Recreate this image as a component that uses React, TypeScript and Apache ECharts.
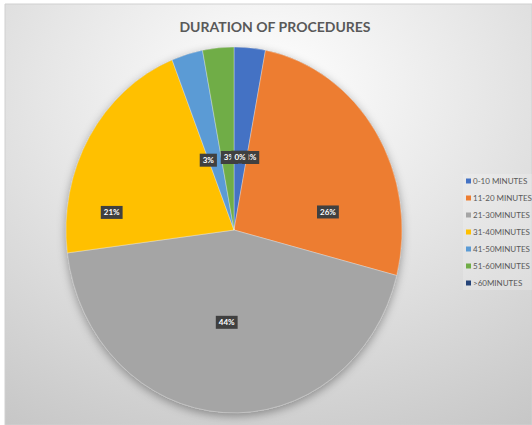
import React, { useEffect, useRef } from 'react';
import * as echarts from 'echarts';

const categories = ['0-10 MINUTES', '11-20 MINUTES', '21-30MINUTES', '31-40MINUTES', '41-50MINUTES', '51-60MINUTES', '>60MINUTES'];
const values = [3, 26, 44, 21, 3, 3, 0];
const colors = ['#4472C4', '#ED7D31', '#A5A5A5', '#FFC000', '#5B9BD5', '#70AD47', '#264478'];
// label nudges (style only), in pixels
const labelNudge = [[10, 4], [23, 31], [-2, 1], [-50, 29], [-6, 4], [2, 4], [6, 4]];

const CX = 234;
const CY = 230;
const RX = 168;
const RY = 183;
const FONT = 'Lato, "Open Sans", sans-serif';

export default function App() {
  const ref = useRef<HTMLDivElement>(null);
  useEffect(() => {
    if (!ref.current) return;
    const chart = echarts.init(ref.current, undefined, { renderer: 'svg' });
    const total = values.reduce((a, b) => a + b, 0);
    const cum: number[] = [];
    let acc = 0;
    values.forEach((v) => { cum.push(acc); acc += v; });

    const series = categories.map((name, i) => ({
      type: 'custom',
      name,
      coordinateSystem: 'none',
      itemStyle: { color: colors[i] },
      data: [[values[i], cum[i]]],
      renderItem: (params: any, api: any) => {
        const v = api.value(0);
        const c0 = api.value(1);
        const a0 = -Math.PI / 2 + (2 * Math.PI * c0) / total;
        const a1 = -Math.PI / 2 + (2 * Math.PI * (c0 + v)) / total;
        const mid = (a0 + a1) / 2;
        const k = v / total < 0.1 ? 0.42 : 0.5;
        const lx = CX + Math.cos(mid) * RX * k + labelNudge[i][0];
        const ly = CY + Math.sin(mid) * RY * k + labelNudge[i][1];
        const children: any[] = [];
        if (v > 0) {
          children.push({
            type: 'sector',
            x: CX,
            y: CY,
            scaleY: RY / RX,
            shape: { cx: 0, cy: 0, r: RX, r0: 0, startAngle: a0, endAngle: a1, clockwise: true },
            style: { fill: colors[i], stroke: 'rgba(255,255,255,0.6)', lineWidth: 0.5 },
          });
        }
        children.push({
          type: 'text',
          x: lx,
          y: ly,
          z2: 100,
          style: {
            text: Math.round((v / total) * 100) + '%',
            fill: '#ffffff',
            fontSize: 8,
            fontWeight: 'bold',
            fontFamily: FONT,
            backgroundColor: '#404040',
            padding: [3, 3, 2, 3],
            align: 'center',
            verticalAlign: 'middle',
          },
        });
        return { type: 'group', children };
      },
    }));

    chart.setOption({
      animation: false,
      backgroundColor: '#ffffff',
      title: {
        text: 'DURATION OF PROCEDURES',
        left: 270,
        top: 14,
        textAlign: 'center',
        textStyle: { fontFamily: FONT, fontSize: 14, fontWeight: 'bold', color: '#595959' },
      },
      legend: {
        orient: 'vertical',
        left: 463,
        top: 174,
        data: categories,
        icon: 'rect',
        itemWidth: 5,
        itemHeight: 5,
        itemGap: 9,
        padding: [3, 4, 3, 3],
        backgroundColor: 'rgba(255,255,255,0.18)',
        textStyle: { fontFamily: FONT, fontSize: 8, color: '#595959', lineHeight: 8, padding: [0, 0, 0, -3] },
      },
      graphic: [
        {
          type: 'rect',
          z: -10,
          shape: { x: 5, y: 4, width: 527, height: 421 },
          style: {
            fill: {
              type: 'radial', x: 0.5, y: 0.2, r: 0.95,
              colorStops: [
                { offset: 0, color: '#ffffff' },
                { offset: 0.45, color: '#e6e6e6' },
                { offset: 1, color: '#c6c6c6' },
              ],
            },
            stroke: '#d0d0d0',
            lineWidth: 1,
          },
        },
        {
          type: 'ellipse',
          z: 0,
          shape: { cx: CX, cy: CY, rx: RX, ry: RY },
          style: { fill: '#a5a5a5', shadowBlur: 10, shadowOffsetY: 3, shadowColor: 'rgba(0,0,0,0.35)' },
        },
      ],
      series,
    });
    return () => chart.dispose();
  }, []);
  return <div ref={ref} style={{ position: 'absolute', left: 0, top: 0, width: 532, height: 425 }} />;
}
